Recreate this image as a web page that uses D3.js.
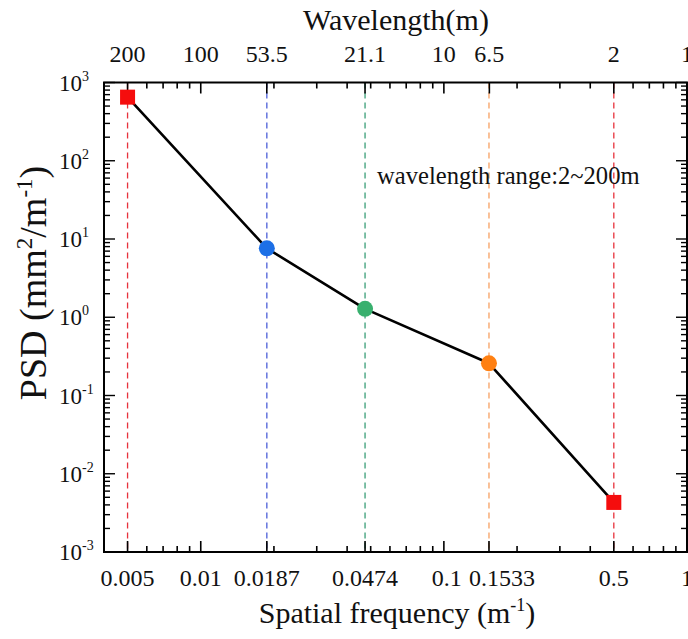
<!DOCTYPE html>
<html><head><meta charset="utf-8">
<script src="https://cdn.jsdelivr.net/npm/d3@7/dist/d3.min.js"></script>
<style>body{margin:0;background:#fff;} svg{display:block;}</style>
</head><body><svg id="c" width="688" height="639" font-family="Liberation Serif, Times New Roman, serif" fill="#111"></svg>
<script>
const freq = [0.005, 0.0187, 0.0474, 0.1533, 0.5];
const psd = [650, 7.6, 1.28, 0.258, 0.0043];
const markerShape = ["square", "circle", "circle", "circle", "square"];
const markerColor = ["#f50d0d", "#1c6fe6", "#38b06e", "#ff8012", "#f50d0d"];
const guideColor = ["#e8323c", "#4c5fd8", "#3a9e78", "#f7a062", "#e8323c"];
const bottomTicks = [0.005, 0.01, 0.0187, 0.0474, 0.1, 0.1533, 0.5, 1];
const bottomLabels = ["0.005", "0.01", "0.0187", "0.0474", "0.1", "0.1533", "0.5", "1"];
const topWavelengths = [200, 100, 53.5, 21.1, 10, 6.5, 2, 1];
const topLabels = ["200", "100", "53.5", "21.1", "10", "6.5", "2", "1"];
const yExps = [3, 2, 1, 0, -1, -2, -3];
const annotation = "wavelength range:2~200m";

const FONT = "'Liberation Serif', 'Times New Roman', serif";
const svg = d3.select("#c");
const L = 104, R = 687, T = 82.5, B = 552;
const x = d3.scaleLog().domain([0.004, 1]).range([L, R]);
const y = d3.scaleLog().domain([0.001, 1000]).range([B, T]);
// small horizontal label nudges to avoid overlap (layout only)
const bottomNudge = {"0.1": 3, "0.1533": 13};

function minors(lo, hi) {
  const out = [];
  for (let e = Math.floor(Math.log10(lo)); e <= Math.ceil(Math.log10(hi)); e++) {
    for (let k = 1; k <= 9; k++) { const v = k * Math.pow(10, e); if (v >= lo * 0.9999 && v <= hi * 1.0001) out.push(v); }
  }
  return out;
}
const g = svg.append("g");

freq.forEach((f, i) => {
  g.append("line").attr("x1", x(f)).attr("x2", x(f)).attr("y1", T).attr("y2", B)
    .attr("stroke", guideColor[i]).attr("stroke-width", 1.3).attr("stroke-dasharray", "6,4");
});

const xMin = minors(0.004, 1).filter(v => !bottomTicks.some(t => Math.abs(t - v) / v < 1e-6));
xMin.forEach(v => {
  g.append("line").attr("x1", x(v)).attr("x2", x(v)).attr("y1", B).attr("y2", B - 6).attr("stroke", "#000").attr("stroke-width", 1.6);
  g.append("line").attr("x1", x(v)).attr("x2", x(v)).attr("y1", T).attr("y2", T + 6).attr("stroke", "#000").attr("stroke-width", 1.6);
});
bottomTicks.forEach(v => {
  g.append("line").attr("x1", x(v)).attr("x2", x(v)).attr("y1", B).attr("y2", B - 11).attr("stroke", "#000").attr("stroke-width", 1.6);
});
topWavelengths.forEach(w => {
  g.append("line").attr("x1", x(1 / w)).attr("x2", x(1 / w)).attr("y1", T).attr("y2", T + 11).attr("stroke", "#000").attr("stroke-width", 1.6);
});
minors(0.001, 1000).forEach(v => {
  const major = Math.abs(Math.log10(v) - Math.round(Math.log10(v))) < 1e-9;
  const len = major ? 11 : 6;
  g.append("line").attr("x1", L).attr("x2", L + len).attr("y1", y(v)).attr("y2", y(v)).attr("stroke", "#000").attr("stroke-width", 1.4);
  g.append("line").attr("x1", R).attr("x2", R - len).attr("y1", y(v)).attr("y2", y(v)).attr("stroke", "#000").attr("stroke-width", 1.4);
});

g.append("rect").attr("x", L).attr("y", T).attr("width", R - L).attr("height", B - T)
  .attr("fill", "none").attr("stroke", "#000").attr("stroke-width", 2);

const pts = freq.map((f, i) => [x(f), y(psd[i])]);
g.append("path").attr("d", d3.line().curve(d3.curveLinear)(pts))
  .attr("fill", "none").attr("stroke", "#000").attr("stroke-width", 2.6).attr("stroke-linejoin", "round");

freq.forEach((f, i) => {
  const cx = x(f), cy = y(psd[i]);
  if (markerShape[i] === "square") {
    g.append("rect").attr("x", cx - 7.5).attr("y", cy - 7.5).attr("width", 15).attr("height", 15).attr("fill", markerColor[i]);
  } else {
    g.append("circle").attr("cx", cx).attr("cy", cy).attr("r", 8).attr("fill", markerColor[i]);
  }
});

function txt(xx, yy, size) {
  return svg.append("text").attr("x", xx).attr("y", yy).attr("font-size", size).style("font-family", FONT).attr("fill", "#111");
}
bottomTicks.forEach((v, i) => {
  txt(x(v) + (bottomNudge[bottomLabels[i]] || 0), 586, 24).attr("text-anchor", "middle").text(bottomLabels[i]);
});
topWavelengths.forEach((w, i) => {
  txt(x(1 / w), 62, 24).attr("text-anchor", "middle").text(topLabels[i]);
});
yExps.forEach(e => {
  const t = txt(59, y(Math.pow(10, e)) + 8, 23).attr("text-anchor", "start");
  t.append("tspan").text("10");
  t.append("tspan").attr("dy", -10).attr("font-size", 14).text(String(e));
});

txt(396, 30, 30).attr("text-anchor", "middle").text("Wavelength(m)");
const xt = txt(397, 623, 30).attr("text-anchor", "middle");
xt.append("tspan").text("Spatial frequency (m");
xt.append("tspan").attr("dy", -12).attr("font-size", 18).text("-1");
xt.append("tspan").attr("dy", 12).text(")");

const yt = svg.append("text").attr("transform", "translate(46,283) rotate(-90)").attr("text-anchor", "middle")
  .attr("font-size", 38).style("font-family", FONT).attr("fill", "#111");
yt.append("tspan").text("PSD (mm");
yt.append("tspan").attr("dy", -14).attr("font-size", 23).text("2");
yt.append("tspan").attr("dy", 14).text("/m");
yt.append("tspan").attr("dy", -14).attr("font-size", 23).text("-1");
yt.append("tspan").attr("dy", 14).text(")");

txt(377, 184, 24.6).text(annotation);
</script></body></html>
